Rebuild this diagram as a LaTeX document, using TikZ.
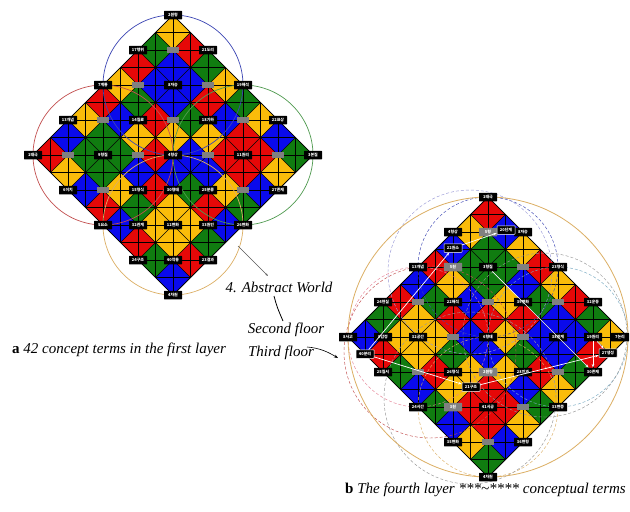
\documentclass[tikz,border=0pt]{standalone}
\usepackage{fontspec}
\setmainfont{Liberation Serif}
\newfontfamily\krfont{Noto Sans CJK KR}
\usetikzlibrary{arrows.meta}
\definecolor{cR}{RGB}{230,8,8}
\definecolor{cY}{RGB}{250,188,10}
\definecolor{cG}{RGB}{16,124,16}
\definecolor{cB}{RGB}{10,10,236}
\definecolor{circB}{RGB}{60,70,180}
\definecolor{circR}{RGB}{195,80,80}
\definecolor{circG}{RGB}{80,155,80}
\definecolor{circO}{RGB}{220,175,100}
\definecolor{dashP}{RGB}{230,130,150}
\definecolor{dashL}{RGB}{150,150,215}
\definecolor{dashT}{RGB}{120,170,195}
\definecolor{dashGr}{RGB}{150,150,150}
\tikzset{
  gridln/.style={line width=0.6pt, black},
  lab/.style={fill=black, text=white, font=\krfont\bfseries\fontsize{4}{4.5}\selectfont, inner sep=0.5pt, minimum width=18pt, minimum height=8.5pt, rounded corners=0.5pt},
  glab/.style={lab, fill=gray},
  gbox/.style={fill=gray, minimum width=11.5pt, minimum height=6pt, inner sep=0pt},
  xlab/.style={lab, draw=white, line width=0.5pt},
  wline/.style={white, line width=0.7pt, -{Stealth[length=3.5pt,width=2.5pt]}},
  txt/.style={font=\fontsize{15}{18}\selectfont\itshape, inner sep=0pt},
  acirc/.style={line width=0.7pt},
  dcirc/.style={line width=0.45pt, dash pattern=on 3pt off 2pt}
}
\newcommand\mosaic[3]{%
\begin{scope}[shift={(#1,#2)},x={(17.5pt,-17.5pt)},y={(-17.5pt,-17.5pt)}]
\foreach \mrow [count=\ia from 0] in {#3}{
  \foreach \mycol [count=\ib from 0] in \mrow{
    \fill[fill=c\mycol] (\ia,\ib) -- ++(1,0) -- ++(0,1) -- ++(-1,0) -- cycle;}}
\foreach \m in {0,...,8}{\draw[gridln] (\m,0) -- (\m,8); \draw[gridln] (0,\m) -- (8,\m);}
\foreach \m in {0,...,7}{\draw[gridln] (\m,0) -- (8,8-\m);}
\foreach \m in {1,...,7}{\draw[gridln] (0,\m) -- (8-\m,8);}
\foreach \m in {1,...,8}{\draw[gridln] (\m,0) -- (0,\m);}
\foreach \m in {1,...,7}{\draw[gridln] (8,\m) -- (\m,8);}
\draw[line width=0.7pt] (0,0) -- (8,0) -- (8,8) -- (0,8) -- cycle;
\end{scope}}
\newcommand\labs[5]{% style, prefix, tx, ty, list
  \foreach \pu/\pv/\ptxt in {#5}{\node[#1] (#2\pu v\pv) at ({#3+35*\pu},{#4+35*\pv}) {\ptxt};}}
\newcommand\gboxes[4]{% prefix, tx, ty, list
  \foreach \pu/\pv in {#4}{\node[gbox] (#1\pu v\pv) at ({#2+35*\pu},{#3+35*\pv}) {};}}
\begin{document}
\begin{tikzpicture}[x=1pt,y=-1pt]
\fill[white] (0,0) rectangle (630,512);
\useasboundingbox (0,0) rectangle (630,512);
% ---------- diamond a ----------
\mosaic{173}{15}{{Y,G,R,Y,R,Y,B,R},{R,B,B,G,B,G,G,Y},{G,B,B,R,Y,G,G,B},{Y,R,G,Y,R,B,Y,R},{G,B,Y,B,B,R,G,B},{Y,R,R,B,G,Y,Y,R},{B,R,R,Y,R,Y,Y,G},{G,Y,B,G,B,G,R,B}}
\draw[acirc,circB] (173,85) circle[radius=70pt];
\draw[acirc,circR] (103,155) circle[radius=70pt];
\draw[acirc,circG] (243,155) circle[radius=70pt];
\draw[acirc,circO] (173,225) circle[radius=70pt];
\gboxes{ag}{173}{15}{0/1,-1/2,1/2,-2/3,0/3,2/3,-3/4,-1/4,1/4,3/4,-2/5,2/5}
\labs{lab}{a}{173}{15}{0/0/2원형,-1/1/17행위,1/1/21도리,-2/2/7계통,0/2/8자승,2/2/19해석,-3/3/13개념,-1/3/14질료,1/3/18기하,3/3/22표상,-4/4/1태극,-2/4/9형질,0/4/4형상,2/4/11원리,4/4/3본질,-3/5/6이치,-1/5/15형식,0/5/30형태,1/5/25분류,3/5/27존재,-2/6/5요소,-1/6/32관계,0/6/12변화,1/6/33원인,2/6/26변화,-1/7/24구조,0/7/40작용,1/7/23결과,0/8/4차원}
% ---------- diamond b ----------
\mosaic{488}{197}{{R,Y,B,R,B,R,G,B},{B,G,G,Y,G,Y,Y,R},{Y,G,G,B,R,Y,Y,G},{R,B,Y,R,B,G,R,B},{Y,G,R,Y,B,Y,Y,G},{R,B,B,G,Y,R,R,B},{G,B,B,R,B,R,R,Y},{Y,R,G,Y,G,Y,B,G}}
\draw[dcirc,circB] (488,267) circle[radius=70pt];
\draw[dcirc,dashL] (470,272) circle[radius=82pt];
\draw[dcirc,dashP] (418,337) circle[radius=70pt];
\draw[dcirc,circR] (430,352) circle[radius=86pt];
\draw[dcirc,dashT] (558,337) circle[radius=70pt];
\draw[dcirc,dashGr] (545,335) circle[radius=82pt];
\draw[dcirc,circO] (488,407) circle[radius=70pt];
\draw[dcirc,dashGr] (470,398) circle[radius=86pt];
\draw[line width=0.8pt,circO] (488,337) circle[radius=140pt];
\gboxes{bg}{488}{197}{1/2,-2/3,0/3,2/3,-1/4,1/4,-2/5,2/5,1/6,0/7}
\labs{glab}{bt}{488}{197}{0/1/5형,-1/2/5원,0/5/2원형,-1/6/3원}
\labs{lab}{b}{488}{197}{0/0/1태극,-1/1/4형상,1/1/8자승,-2/2/13개념,0/2/3형질,2/2/23형식,-3/3/24현실,-1/3/22해석,1/3/39변화,3/3/32운동,-4/4/8사고,-3/4/9감정,-2/4/32공간,0/4/6형태,2/4/38관계,3/4/19원리,-3/5/25질서,-1/5/26형식,1/5/28인과,3/5/30존재,-2/6/24시간,0/6/41시공,2/6/33변증,-1/7/35변화,1/7/36변형,0/8/4차원}
\node[lab] (b4v4) at (620,337) {7논리};
\node[xlab] (bx1) at (365,354) {40분리};
\node[xlab] (bx2) at (453,248) {22원소};
\node[xlab] (bx3) at (506,230) {20단계};
\node[xlab] (bx4) at (471,387) {21구조};
\node[xlab] (bx5) at (608,353) {27생성};
\draw[wline] (bx1) -- (bx2);
\draw[wline] (bx2) -- (bx3);
\draw[wline] (b0v2) -- (b3v5);
\draw[wline] (bx1) -- (bx4);
\draw[wline] (bx4) -- (bx5);
\draw[wline] (b3v4) -- (b3v5);
\draw[wline] (b3v4) -- (bx5);
% ---------- texts ----------
\node[txt] (aw) at (279,287) {4. Abstract World};
\node[txt] (sf) at (286,330) {Second floor};
\node[txt] (tf) at (281,353) {Third floor};
\node[inner sep=0pt, anchor=west, font=\fontsize{15}{18}\selectfont] (capa) at (12,350) {\textbf{a} \textit{42 concept terms in the first layer}};
\node[inner sep=0pt, anchor=west, font=\fontsize{15}{18}\selectfont] (capb) at (345,490) {\textbf{b} \textit{The fourth layer ***\textasciitilde**** conceptual terms}};
\coordinate (p1) at (238,246);
\coordinate (p2) at (268,276);
\draw[gray!70!black, line width=0.5pt, -{Stealth[length=3pt,width=2pt]}] (p1) -- (p2);
\coordinate (q1) at (274,296);
\coordinate (q2) at (283,321);
\draw[line width=0.8pt] (q1) .. controls (277,307) .. (q2);
\coordinate (r1) at (307,347);
\coordinate (r2) at (338,358);
\draw[line width=0.6pt, -{Stealth[length=4pt,width=3pt]}] (r1) .. controls (320,348) and (328,352) .. (r2);
\end{tikzpicture}
\end{document}
